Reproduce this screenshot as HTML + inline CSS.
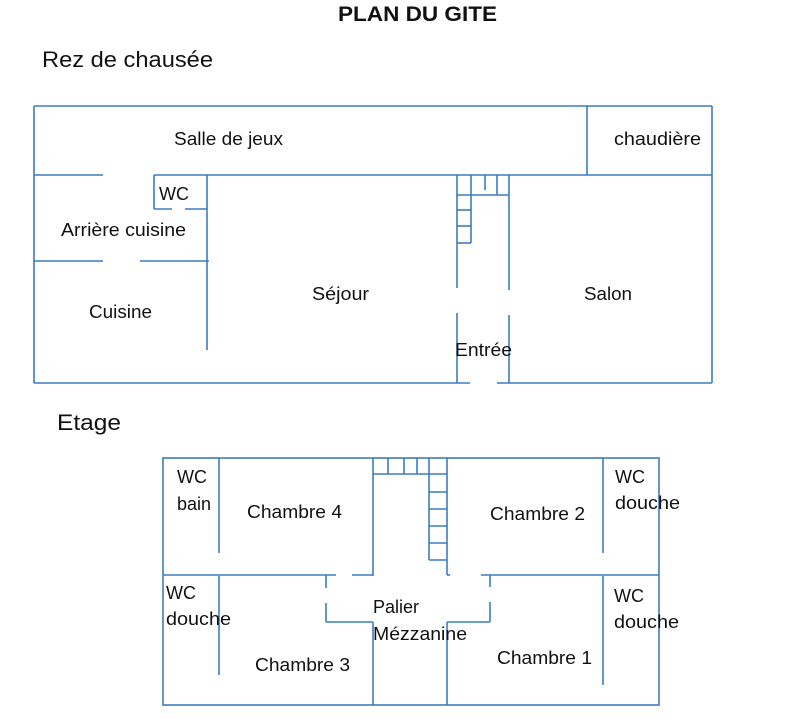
<!DOCTYPE html>
<html><head><meta charset="utf-8"><style>
body{margin:0;background:#fff;width:800px;height:720px;overflow:hidden}
svg{display:block}
text{font-family:"Liberation Sans",sans-serif;fill:#111}
</style></head><body>
<svg width="800" height="720" viewBox="0 0 800 720">
<g stroke="#3d7cc0" stroke-width="1.6" fill="none">
<line x1="34" y1="106" x2="712" y2="106"/>
<line x1="34" y1="106" x2="34" y2="383"/>
<line x1="712" y1="106" x2="712" y2="383"/>
<line x1="34" y1="383" x2="470" y2="383"/>
<line x1="497" y1="383" x2="712" y2="383"/>
<line x1="587" y1="106" x2="587" y2="175"/>
<line x1="34" y1="175" x2="103" y2="175"/>
<line x1="154" y1="175" x2="712" y2="175"/>
<line x1="154" y1="175" x2="154" y2="209"/>
<line x1="154" y1="209" x2="172" y2="209"/>
<line x1="185" y1="209" x2="207" y2="209"/>
<line x1="207" y1="175" x2="207" y2="350"/>
<line x1="34" y1="261" x2="103" y2="261"/>
<line x1="140" y1="261" x2="209" y2="261"/>
<line x1="457" y1="175" x2="457" y2="288"/>
<line x1="457" y1="313" x2="457" y2="383"/>
<line x1="509" y1="175" x2="509" y2="290"/>
<line x1="509" y1="315" x2="509" y2="383"/>
<line x1="457" y1="195" x2="509" y2="195"/>
<line x1="471" y1="175" x2="471" y2="243"/>
<line x1="485" y1="175" x2="485" y2="190"/>
<line x1="497" y1="175" x2="497" y2="195"/>
<line x1="457" y1="210" x2="471" y2="210"/>
<line x1="457" y1="226" x2="471" y2="226"/>
<line x1="457" y1="243" x2="471" y2="243"/>
<rect x="163" y="458" width="496" height="247"/>
<line x1="219" y1="458" x2="219" y2="553"/>
<line x1="219" y1="576" x2="219" y2="675"/>
<line x1="603" y1="458" x2="603" y2="553"/>
<line x1="603" y1="576" x2="603" y2="685"/>
<line x1="163" y1="575" x2="336" y2="575"/>
<line x1="352" y1="575" x2="373" y2="575"/>
<line x1="447" y1="575" x2="450" y2="575"/>
<line x1="481" y1="575" x2="659" y2="575"/>
<line x1="373" y1="458" x2="373" y2="576"/>
<line x1="373" y1="622" x2="373" y2="705"/>
<line x1="447" y1="458" x2="447" y2="575"/>
<line x1="447" y1="622" x2="447" y2="705"/>
<line x1="326" y1="575" x2="326" y2="588"/>
<line x1="326" y1="603" x2="326" y2="622"/>
<line x1="326" y1="622" x2="373" y2="622"/>
<line x1="490" y1="575" x2="490" y2="587"/>
<line x1="490" y1="602" x2="490" y2="622"/>
<line x1="447" y1="622" x2="490" y2="622"/>
<line x1="373" y1="474" x2="447" y2="474"/>
<line x1="388" y1="458" x2="388" y2="474"/>
<line x1="404" y1="458" x2="404" y2="474"/>
<line x1="417" y1="458" x2="417" y2="474"/>
<line x1="429" y1="458" x2="429" y2="560"/>
<line x1="429" y1="492" x2="447" y2="492"/>
<line x1="429" y1="509" x2="447" y2="509"/>
<line x1="429" y1="526" x2="447" y2="526"/>
<line x1="429" y1="543" x2="447" y2="543"/>
<line x1="429" y1="560" x2="447" y2="560"/>
</g>
<text x="338" y="21" font-size="21" font-weight="bold" textLength="159" lengthAdjust="spacingAndGlyphs">PLAN DU GITE</text>
<text x="42" y="67" font-size="22" textLength="171" lengthAdjust="spacingAndGlyphs">Rez de chausée</text>
<text x="57" y="430" font-size="22" textLength="64" lengthAdjust="spacingAndGlyphs">Etage</text>
<g font-size="18">
<text x="174" y="145" textLength="109" lengthAdjust="spacingAndGlyphs">Salle de jeux</text>
<text x="614" y="145" textLength="87" lengthAdjust="spacingAndGlyphs">chaudière</text>
<text x="159" y="200">WC</text>
<text x="61" y="236" textLength="125" lengthAdjust="spacingAndGlyphs">Arrière cuisine</text>
<text x="89" y="318" textLength="63" lengthAdjust="spacingAndGlyphs">Cuisine</text>
<text x="312" y="300" textLength="57" lengthAdjust="spacingAndGlyphs">Séjour</text>
<text x="584" y="300" textLength="48" lengthAdjust="spacingAndGlyphs">Salon</text>
<text x="455" y="356" textLength="57" lengthAdjust="spacingAndGlyphs">Entrée</text>
<text x="177" y="483">WC</text>
<text x="177" y="510">bain</text>
<text x="247" y="518" textLength="95" lengthAdjust="spacingAndGlyphs">Chambre 4</text>
<text x="490" y="520" textLength="95" lengthAdjust="spacingAndGlyphs">Chambre 2</text>
<text x="615" y="483">WC</text>
<text x="615" y="509" textLength="65" lengthAdjust="spacingAndGlyphs">douche</text>
<text x="166" y="599">WC</text>
<text x="166" y="625" textLength="65" lengthAdjust="spacingAndGlyphs">douche</text>
<text x="373" y="613">Palier</text>
<text x="373" y="640" textLength="94" lengthAdjust="spacingAndGlyphs">Mézzanine</text>
<text x="614" y="602">WC</text>
<text x="614" y="628" textLength="65" lengthAdjust="spacingAndGlyphs">douche</text>
<text x="255" y="671" textLength="95" lengthAdjust="spacingAndGlyphs">Chambre 3</text>
<text x="497" y="664" textLength="95" lengthAdjust="spacingAndGlyphs">Chambre 1</text>
</g>
</svg>
</body></html>
